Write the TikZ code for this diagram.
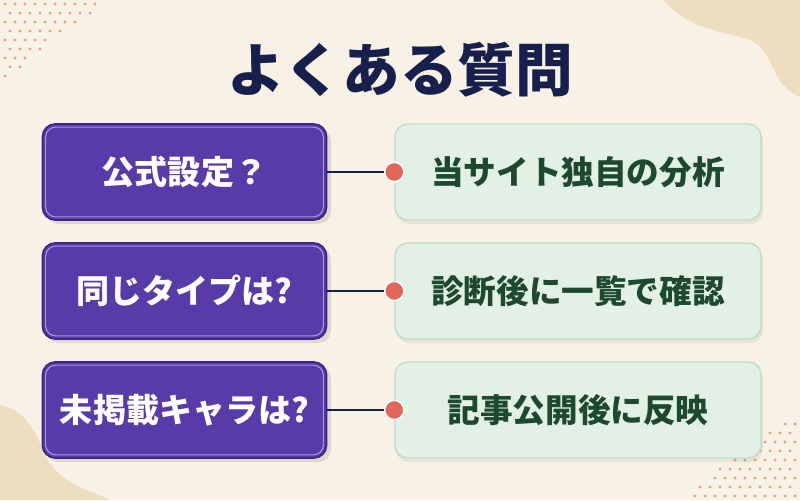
\documentclass[tikz,border=0pt]{standalone}
\usepackage{fontspec}
\newfontfamily\jpfont{Noto Sans CJK JP}
\usetikzlibrary{calc}

\definecolor{paper}{HTML}{F8F1E5}
\definecolor{sand}{HTML}{EEDDBE}
\definecolor{speck}{HTML}{E8A27E}
\definecolor{navy}{HTML}{17204D}
\definecolor{qfill}{HTML}{583AA8}
\definecolor{qedge}{HTML}{3C2882}
\definecolor{qline}{HTML}{A694E0}
\definecolor{afill}{HTML}{E3F0E5}
\definecolor{aedge}{HTML}{C0DCCA}
\definecolor{atext}{HTML}{1D4A2E}
\definecolor{pin}{HTML}{E2675A}

\begin{document}
\begin{tikzpicture}[x=0.025cm, y=-0.025cm,
  qbox/.style={draw=qedge, line width=1.2pt, fill=qfill, rounded corners=0.32cm,
    minimum width=7.1cm, minimum height=2.4cm, text=white,
    font=\jpfont\bfseries\fontsize{23.5}{23.5}\selectfont},
  abox/.style={draw=aedge, line width=1pt, fill=afill, rounded corners=0.32cm,
    minimum width=9.15cm, minimum height=2.4cm, text=atext,
    font=\jpfont\bfseries\fontsize{23.2}{23.2}\selectfont},
  innerline/.style={draw=qline, line width=0.8pt, rounded corners=0.25cm},
  shade/.style={fill=black, opacity=0.10, rounded corners=0.32cm},
  link/.style={draw=navy, line width=1.6pt},
  pinmark/.style={circle, fill=pin, draw=white, line width=1pt, minimum size=0.48cm, inner sep=0pt}]

% background
\fill[paper] (0,0) rectangle (800,500);
\useasboundingbox (0,0) rectangle (800,500);
\fill[sand] (663,0) .. controls (690,30) and (720,30) .. (750,40)
  .. controls (775,50) and (770,85) .. (800,97) -- (800,0) -- cycle;
\fill[sand] (0,405) .. controls (25,410) and (35,430) .. (45,455)
  .. controls (60,485) and (90,490) .. (110,500) -- (0,500) -- cycle;

% speckles
\foreach \i in {0,...,10}
  \foreach \j in {0,...,8}{
    \pgfmathtruncatemacro\keep{\i*11+\j*13}
    \pgfmathsetmacro\sx{5+\i*10+mod(\j,2)*5}
    \pgfmathsetmacro\sy{4+\j*9}
    \ifnum\keep<105
      \fill[speck] (\sx,\sy) circle (1.6);
    \fi
  }
\foreach \i in {0,...,11}
  \foreach \j in {0,...,8}{
    \pgfmathtruncatemacro\keep{\i*10+\j*12}
    \pgfmathsetmacro\sx{795-\i*10-mod(\j,2)*5}
    \pgfmathsetmacro\sy{496-\j*9}
    \ifnum\keep<110
      \fill[speck] (\sx,\sy) circle (1.6);
    \fi
  }

% title
\node[text=navy, font=\jpfont\bfseries\fontsize{41}{41}\selectfont] (title) at (400,70) {よくある質問};

% question boxes
\fill[shade] (46,128) rectangle (331,224);
\fill[shade] (46,247) rectangle (331,343);
\fill[shade] (46,366) rectangle (331,462);
\node[qbox] (q1) at (184.5,172) {公式設定？};
\node[qbox] (q2) at (184.5,291) {同じタイプは?};
\node[qbox] (q3) at (184.5,410) {未掲載キャラは?};
\foreach \n in {q1,q2,q3}
  \draw[innerline] ($(\n.south west)+(4,-4)$) rectangle ($(\n.north east)+(-4,4)$);

% answer boxes
\fill[shade, opacity=0.06] (396,128) rectangle (763,224);
\fill[shade, opacity=0.06] (396,247) rectangle (763,343);
\fill[shade, opacity=0.06] (396,366) rectangle (763,462);
\node[abox] (a1) at (578,172) {当サイト独自の分析};
\node[abox] (a2) at (578,291) {診断後に一覧で確認};
\node[abox] (a3) at (578,410) {記事公開後に反映};

% links
\node[pinmark] (p1) at (a1.west) {};
\node[pinmark] (p2) at (a2.west) {};
\node[pinmark] (p3) at (a3.west) {};
\draw[link] (q1) -- (p1);
\draw[link] (q2) -- (p2);
\draw[link] (q3) -- (p3);
\end{tikzpicture}
\end{document}
